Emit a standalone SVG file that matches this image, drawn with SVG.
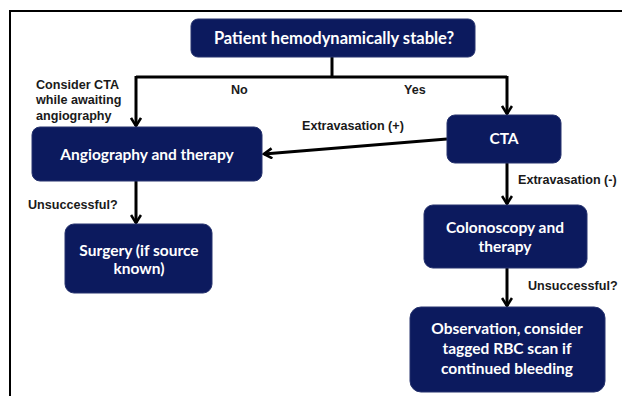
<svg xmlns="http://www.w3.org/2000/svg" width="622" height="396" viewBox="0 0 622 396">
<style>
.box{fill:#0c1a5e;stroke:#26336e;stroke-width:1}
.bt{font-family:Lato,"Open Sans",sans-serif;font-weight:bold;font-size:15.5px;fill:#ffffff;text-anchor:middle}
.lb{font-family:"Liberation Sans",Arial,sans-serif;font-weight:bold;font-size:12.6px;fill:#1a1a1a}
.ln{fill:none;stroke:#000000;stroke-width:3}
</style>
<defs>
<marker id="ah" viewBox="0 0 12 12" refX="10" refY="6" markerWidth="12" markerHeight="12" markerUnits="userSpaceOnUse" orient="auto">
<path d="M2,1 L10,6 L2,11" fill="none" stroke="#000" stroke-width="2.6"/>
</marker>
</defs>
<rect width="622" height="396" fill="#ffffff"/>
<path d="M10,396 V11 H622" fill="none" stroke="#000" stroke-width="2"/>
<g id="connectors">
<path class="ln" d="M332,57 V77"/>
<path class="ln" d="M136,77 H507"/>
<path class="ln" d="M136,76 V126" marker-end="url(#ah)"/>
<path class="ln" d="M507,76 V114" marker-end="url(#ah)"/>
<path class="ln" d="M447,139 L264,154" marker-end="url(#ah)"/>
<path class="ln" d="M507,163 V204" marker-end="url(#ah)"/>
<path class="ln" d="M136,181 V223" marker-end="url(#ah)"/>
<path class="ln" d="M507,268 V306" marker-end="url(#ah)"/>
</g>
<g id="labels">
<text class="lb" x="36" y="89">Consider CTA</text>
<text class="lb" x="36" y="104">while awaiting</text>
<text class="lb" x="36" y="120">angiography</text>
<text class="lb" x="231" y="94">No</text>
<text class="lb" x="404" y="94">Yes</text>
<text class="lb" x="302" y="130">Extravasation (+)</text>
<text class="lb" x="518" y="184">Extravasation (-)</text>
<text class="lb" x="28" y="209">Unsuccessful?</text>
<text class="lb" x="528" y="290">Unsuccessful?</text>
</g>
<g id="n1">
<rect class="box" x="191" y="19" width="284" height="38" rx="7"/>
<text class="bt" x="334" y="44" style="font-size:16.5px">Patient hemodynamically stable?</text>
</g>
<g id="n2">
<rect class="box" x="32" y="127" width="230" height="54" rx="8"/>
<text class="bt" x="147" y="160">Angiography and therapy</text>
</g>
<g id="n3">
<rect class="box" x="447" y="115" width="114" height="48" rx="8"/>
<text class="bt" x="504" y="144">CTA</text>
</g>
<g id="n4">
<rect class="box" x="65" y="224" width="147" height="69" rx="9"/>
<text class="bt" x="139" y="256">Surgery (if source</text>
<text class="bt" x="139" y="274">known)</text>
</g>
<g id="n5">
<rect class="box" x="424" y="205" width="163" height="63" rx="9"/>
<text class="bt" x="505" y="233">Colonoscopy and</text>
<text class="bt" x="505" y="252">therapy</text>
</g>
<g id="n6">
<rect class="box" x="410" y="307" width="195" height="85" rx="11"/>
<text class="bt" x="507" y="334">Observation, consider</text>
<text class="bt" x="507" y="354">tagged RBC scan if</text>
<text class="bt" x="507" y="374">continued bleeding</text>
</g>
</svg>
